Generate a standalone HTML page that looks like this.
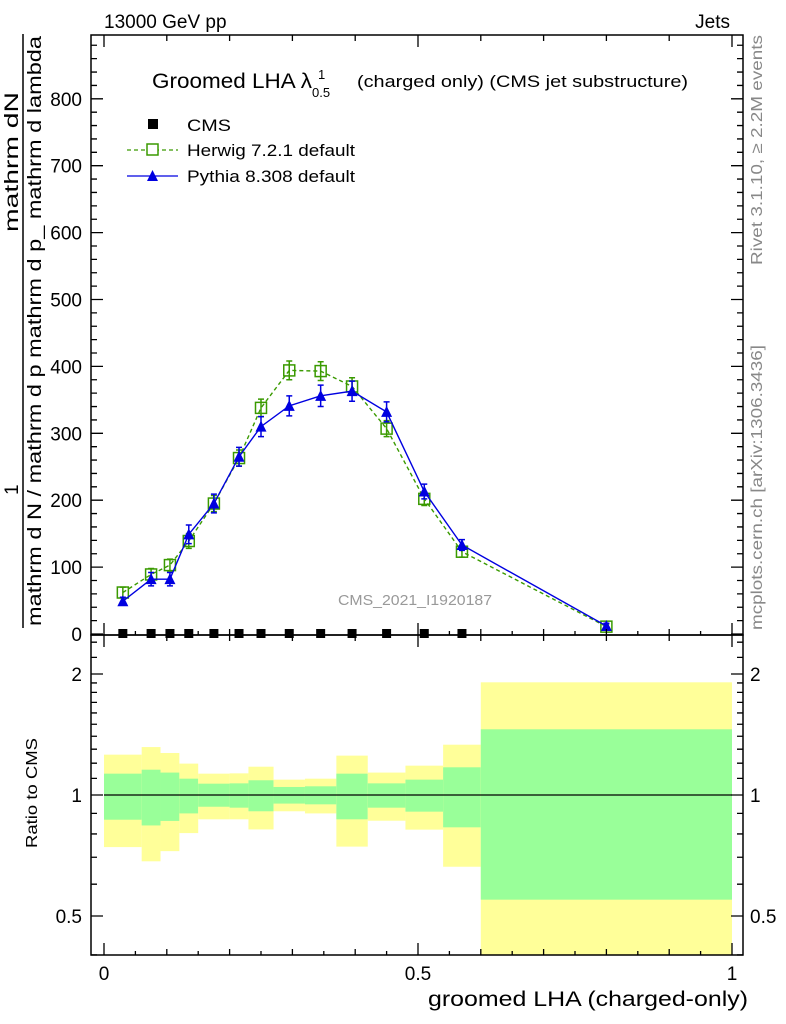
<!DOCTYPE html>
<html><head><meta charset="utf-8"><style>
html,body{margin:0;padding:0;background:#fff}
svg{display:block;font-family:"Liberation Sans",sans-serif}
</style></head><body>
<svg id="chart" width="786" height="1024" viewBox="0 0 786 1024" xmlns="http://www.w3.org/2000/svg">
<g id="bands"></g>
<g id="marks"></g>
<g id="axes"></g>
<text x="104" y="28" font-size="19">13000 GeV pp</text>
<text x="730" y="28" font-size="19" text-anchor="end">Jets</text>
<text x="152" y="88" font-size="21" textLength="160" lengthAdjust="spacingAndGlyphs">Groomed LHA λ</text>
<text x="318" y="79" font-size="13">1</text>
<text x="312" y="97" font-size="13">0.5</text>
<text x="357" y="87" font-size="17" textLength="331" lengthAdjust="spacingAndGlyphs">(charged only) (CMS jet substructure)</text>
<g>
<rect x="148" y="119" width="10" height="10" fill="#000"/>
<text x="187" y="131" font-size="17" textLength="44" lengthAdjust="spacingAndGlyphs">CMS</text>
<line x1="127" y1="150" x2="178" y2="150" stroke="#3a9a00" stroke-width="1.3" stroke-dasharray="4,3"/>
<rect x="147" y="144" width="11" height="11" fill="#fff" stroke="#3a9a00" stroke-width="1.5"/>
<text x="187" y="156" font-size="17" textLength="168" lengthAdjust="spacingAndGlyphs">Herwig 7.2.1 default</text>
<line x1="127" y1="176" x2="178" y2="176" stroke="#0000e0" stroke-width="1.3"/>
<polygon points="152.5,170 147,181 158,181" fill="#0000e0"/>
<text x="187" y="182" font-size="17" textLength="168" lengthAdjust="spacingAndGlyphs">Pythia 8.308 default</text>
</g>
<text x="338" y="605" font-size="15" fill="#999" textLength="154" lengthAdjust="spacingAndGlyphs">CMS_2021_I1920187</text>
<text transform="translate(762,265) rotate(-90)" font-size="16" fill="#888" textLength="230" lengthAdjust="spacingAndGlyphs">Rivet 3.1.10, ≥ 2.2M events</text>
<text transform="translate(762,630) rotate(-90)" font-size="16" fill="#888" textLength="285" lengthAdjust="spacingAndGlyphs">mcplots.cern.ch [arXiv:1306.3436]</text>
<g>
<text transform="translate(18,232) rotate(-90)" font-size="19" textLength="140" lengthAdjust="spacingAndGlyphs">mathrm dN</text>
<text transform="translate(18,495) rotate(-90)" font-size="19">1</text>
<line x1="23" y1="34" x2="23" y2="628" stroke="#000" stroke-width="1.5"/>
<text transform="translate(41,626) rotate(-90)" font-size="19" textLength="590" lengthAdjust="spacingAndGlyphs">mathrm d N / mathrm d p mathrm d p_ mathrm d lambda</text>
</g>
<text transform="translate(37,848) rotate(-90)" font-size="16" textLength="110" lengthAdjust="spacingAndGlyphs">Ratio to CMS</text>
<text x="748" y="1006" font-size="21" text-anchor="end" textLength="320" lengthAdjust="spacingAndGlyphs">groomed LHA (charged-only)</text>
</svg>
<script>
const edges = [0,0.06,0.09,0.12,0.15,0.2,0.23,0.27,0.32,0.37,0.42,0.48,0.54,0.6,1.0];
const cmsVals = [1.5,1.5,1.5,1.5,1.5,1.5,1.5,1.5,1.5,1.5,1.5,1.5,1.5,1.5];
const herwigVals = [62,89,103,139,195,263,338,394,393,370,307,202,123,11];
const herwigErr = [8,9,9,11,12,12,13,14,14,13,12,10,8,4];
const pythiaVals = [49,82,82,149,195,265,310,341,356,363,332,213,133,12];
const pythiaErr = [6,10,10,14,14,14,15,15,16,15,15,11,8,4];
const bandYelHi = [1.26,1.316,1.272,1.197,1.13,1.132,1.176,1.092,1.098,1.253,1.137,1.183,1.334,1.907];
const bandGrnHi = [1.13,1.156,1.137,1.098,1.067,1.069,1.088,1.047,1.051,1.13,1.069,1.092,1.172,1.457];
const bandGrnLo = [0.868,0.84,0.862,0.9,0.935,0.93,0.911,0.952,0.948,0.87,0.93,0.909,0.831,0.549];
const bandYelLo = [0.742,0.684,0.725,0.804,0.87,0.87,0.821,0.911,0.9,0.744,0.863,0.82,0.663,0.3];
const yTicks = [0,100,200,300,400,500,600,700,800];
const xTicks = [0,0.5,1];
const rTicks = [0.5,1,2];

const NS="http://www.w3.org/2000/svg";
const L=91,R=743,MT=35,MB=635,RT=635,RB=955;
const X=v=>104+v*628;
const Y=v=>634-v*0.669;
const RY=v=>795-121*Math.log2(v);
function mk(tag,attrs,parent){const e=document.createElementNS(NS,tag);for(const k in attrs)e.setAttribute(k,attrs[k]);parent.appendChild(e);return e;}
const bands=document.getElementById('bands'),marks=document.getElementById('marks'),axes=document.getElementById('axes');

for(let i=0;i<edges.length-1;i++){
  const x0=X(edges[i]),x1=X(edges[i+1]);
  const yh=Math.max(RY(bandYelHi[i]),RT),yl=Math.min(RY(bandYelLo[i]),RB);
  let r=mk('rect',{x:x0,y:yh,width:x1-x0,height:yl-yh,fill:'#ffff99'},bands);
  
  
  const gh=RY(bandGrnHi[i]),gl=RY(bandGrnLo[i]);
  r=mk('rect',{x:x0,y:gh,width:x1-x0,height:gl-gh,fill:'#99ff99'},bands);
  
  
}
let one=mk('line',{x1:X(0),x2:X(1),y1:RY(1),y2:RY(1),stroke:'#000','stroke-width':1.3},bands);



const mids=edges.slice(0,-1).map((e,i)=>(e+edges[i+1])/2);
mids.forEach((m,i)=>{
  if(i===mids.length-1)return;
  const r=mk('rect',{x:X(m)-4.5,y:Y(cmsVals[i])-4,width:9,height:9,fill:'#000'},marks);
  
  
});
function series(vals,errs,color,dash,name,marker){
  const p=mk('polyline',{points:mids.map((m,i)=>X(m)+','+Y(vals[i])).join(' '),fill:'none',stroke:color,'stroke-width':1.4},marks);
  if(dash)p.setAttribute('stroke-dasharray',dash);
  
  
  mids.forEach((m,i)=>{
    const x=X(m),y=Y(vals[i]),e=errs[i]*0.669;
    const g=mk('g',{},marks);
    
    
    mk('path',{d:`M${x},${y-e}V${y+e}M${x-3},${y-e}H${x+3}M${x-3},${y+e}H${x+3}`,stroke:color,'stroke-width':1.5,fill:'none'},g);
    if(marker==='sq')mk('rect',{x:x-5.5,y:y-5.5,width:11,height:11,fill:'#fff','fill-opacity':0.01,stroke:color,'stroke-width':1.5},g);
    else mk('polygon',{points:`${x},${y-6} ${x-5.5},${y+5} ${x+5.5},${y+5}`,fill:color},g);
  });
}
series(herwigVals,herwigErr,'#3a9a00','4,3','herwig','sq');
series(pythiaVals,pythiaErr,'#0000e0',null,'pythia','tri');

let f=mk('rect',{x:L,y:MT,width:R-L,height:MB-MT,fill:'none',stroke:'#000','stroke-width':1.5},axes);


f=mk('rect',{x:L,y:RT,width:R-L,height:RB-RT,fill:'none',stroke:'#000','stroke-width':1.5},axes);


let d='';
for(let v=0;v<=920;v+=20){const y=Y(v);if(y<MT)break;const len=v%100===0?12:6;d+=`M${L},${y}h${len}M${R},${y}h${-len}`;}
for(let k=0;k<=10;k++){const v=k/10,x=X(v);const len=k%5===0?12:6;d+=`M${x},${MB}v${-len}M${x},${MT}v${len}M${x},${RB}v${-len}M${x},${RT}v${len}`;}
for(let k=0;k<=20;k++){if(k%2===0)continue;const x=X(k/20);d+=`M${x},${MB}v-4M${x},${RB}v-4`;}
[0.4,0.5,0.6,0.7,0.8,0.9,1,1.1,1.2,1.3,1.4,1.5,1.6,1.7,1.8,1.9,2,2.2,2.4].forEach(v=>{const y=RY(v);if(y<RT||y>RB)return;const len=(v===0.5||v===1||v===2)?12:6;d+=`M${L},${y}h${len}M${R},${y}h${-len}`;});
let t=mk('path',{d:d,stroke:'#000','stroke-width':1.3,fill:'none'},axes);


yTicks.forEach(v=>{const e=mk('text',{x:82,y:Y(v)+7,'font-size':19,'text-anchor':'end'},axes);e.textContent=v;

});
xTicks.forEach(v=>{const e=mk('text',{x:X(v),y:980,'font-size':19,'text-anchor':'middle'},axes);e.textContent=v;

});
rTicks.forEach(v=>{let e=mk('text',{x:82,y:RY(v)+7,'font-size':19,'text-anchor':'end'},axes);e.textContent=v;


e=mk('text',{x:750,y:RY(v)+7,'font-size':19},axes);e.textContent=v;

});
</script>
</body></html>
